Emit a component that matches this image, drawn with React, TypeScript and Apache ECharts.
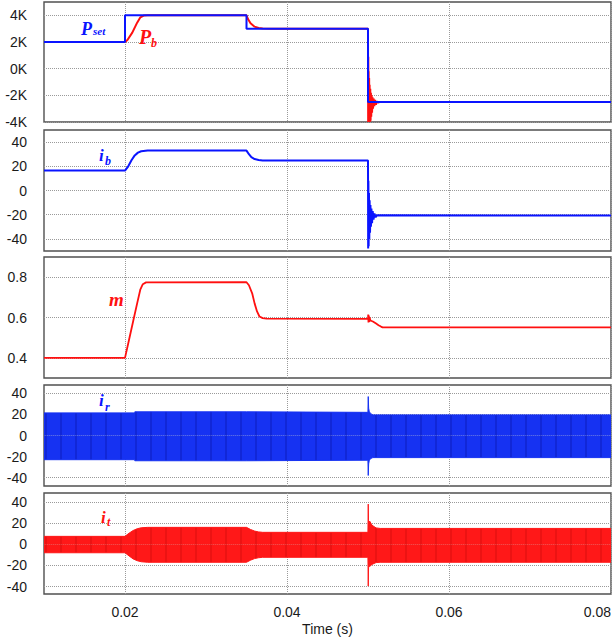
import React, { useEffect, useRef } from 'react';
import * as echarts from 'echarts';

// ---------- data ----------
const xTicks = [0.02, 0.04, 0.06, 0.08];
const pTicks = [-4000, -2000, 0, 2000, 4000];
const iTicks = [-40, -20, 0, 20, 40];
const mTicks = [0.4, 0.6, 0.8];

// Power reference P_set (W)
const pSet: [number, number][] = [
  [0.01, 2000], [0.02, 2000], [0.02, 4000], [0.035, 4000], [0.035, 3000],
  [0.05, 3000], [0.05, -2500], [0.08, -2500],
];
// Battery power P_b (W)
const pB: [number, number][] = [
  [0.01, 2000], [0.02, 2000], [0.0203, 2150], [0.0209, 2700], [0.0215, 3450],
  [0.0219, 3850], [0.0223, 3980], [0.0228, 4000], [0.035, 4000], [0.0352, 3700],
  [0.0355, 3400], [0.036, 3150], [0.0365, 3050], [0.037, 3010], [0.038, 3000],
  [0.05, 3000], [0.05002, -4000], [0.05004, 900], [0.05006, -4000], [0.05008, -200],
  [0.05011, -4000], [0.05014, -700], [0.05017, -4000], [0.0502, -1200], [0.05024, -4000],
  [0.05028, -1500], [0.05032, -3900], [0.05036, -1800], [0.0504, -3600], [0.05045, -2000],
  [0.0505, -3300], [0.05056, -2150], [0.05062, -3000], [0.0507, -2250], [0.05078, -2800],
  [0.05088, -2350], [0.05098, -2700], [0.0511, -2450], [0.05125, -2550], [0.0514, -2500],
  [0.08, -2500],
];
// Battery current i_b (A)
const iB: [number, number][] = [
  [0.01, 16.5], [0.02, 16.5], [0.0204, 20], [0.0208, 25], [0.0212, 29], [0.0216, 31.3],
  [0.022, 32.4], [0.0228, 33], [0.035, 33], [0.0353, 30], [0.0356, 27.5], [0.036, 26],
  [0.0365, 25.2], [0.037, 24.8], [0.05, 24.8], [0.05002, -48], [0.05005, 8], [0.05008, -46],
  [0.05012, -2], [0.05016, -40], [0.0502, -8], [0.05025, -35], [0.0503, -12], [0.05036, -30],
  [0.05042, -15], [0.0505, -27], [0.05058, -17], [0.05068, -24], [0.0508, -19], [0.05095, -22],
  [0.0511, -20.5], [0.08, -20.7],
];
// Modulation index m
const mIdx: [number, number][] = [
  [0.01, 0.4], [0.02, 0.4], [0.0205, 0.49], [0.021, 0.58], [0.0215, 0.67], [0.0219, 0.74],
  [0.0222, 0.765], [0.0226, 0.774], [0.035, 0.775], [0.0353, 0.76], [0.0357, 0.72],
  [0.036, 0.67], [0.0363, 0.63], [0.0366, 0.605], [0.037, 0.597], [0.0375, 0.594],
  [0.05, 0.593], [0.05003, 0.615], [0.05006, 0.575], [0.0501, 0.61], [0.05015, 0.578],
  [0.0502, 0.6], [0.0503, 0.585], [0.0506, 0.58], [0.051, 0.57], [0.0513, 0.562],
  [0.0516, 0.555], [0.0518, 0.551], [0.08, 0.551],
];
// Grid current i_r envelope (A)
const irUpper: [number, number][] = [
  [0.01, 21.5], [0.0212, 21.5], [0.02121, 22.5], [0.035, 22.5], [0.03501, 22],
  [0.04999, 22], [0.05003, 37], [0.05008, 26], [0.05015, 23], [0.0503, 21],
  [0.0506, 19.6], [0.08, 19.6],
];
const irLower: [number, number][] = [
  [0.01, -23], [0.0212, -23], [0.02121, -24], [0.035, -24], [0.03501, -23.5],
  [0.04999, -23.5], [0.05003, -38], [0.05008, -27], [0.05015, -24], [0.0503, -22],
  [0.0506, -21], [0.08, -21],
];
// Transformer current i_t envelope (A)
const itUpper: [number, number][] = [
  [0.01, 7.5], [0.02, 7.5], [0.0205, 10.5], [0.021, 13], [0.0215, 14.7], [0.022, 15.6],
  [0.0228, 16], [0.035, 16], [0.0355, 14], [0.036, 12.5], [0.0365, 11.7], [0.037, 11.3],
  [0.04999, 11.3], [0.05003, 38], [0.05007, 20], [0.0502, 22], [0.0505, 18], [0.051, 15.5],
  [0.0515, 15], [0.08, 15],
];
const itLower: [number, number][] = [
  [0.01, -8], [0.02, -8], [0.0205, -11], [0.021, -13.8], [0.0215, -15.5], [0.022, -16.5],
  [0.0228, -17], [0.035, -17], [0.0355, -15], [0.036, -13.5], [0.0365, -12.7], [0.037, -12.3],
  [0.04999, -12.3], [0.05003, -39.5], [0.05007, -22], [0.0502, -21], [0.0505, -19], [0.051, -17.3],
  [0.0515, -17], [0.08, -17],
];

const BLUE = '#0a14ff';
const RED = '#ff1010';
const BAND_BLUE = '#1632f2';
const BAND_RED = '#ff1818';
const SANS = 'Liberation Sans, Arial, sans-serif';
const SERIF = 'Liberation Serif, Times New Roman, serif';

export default function App() {
  const ref = useRef<HTMLDivElement>(null);
  useEffect(() => {
    if (!ref.current) return;
    const chart = echarts.init(ref.current, undefined, { renderer: 'svg' });

    const grids = [
      { left: 44, top: 2, width: 567, height: 120 },
      { left: 44, top: 130, width: 567, height: 121 },
      { left: 44, top: 257, width: 567, height: 121 },
      { left: 44, top: 385, width: 567, height: 101 },
      { left: 44, top: 493, width: 567, height: 101 },
    ].map((g) => ({
      ...g,
      show: true,
      borderColor: '#505050',
      borderWidth: 1.4,
      backgroundColor: '#fff',
      containLabel: false,
      outerBoundsMode: 'none',
    }));

    const splitLine = { show: true, lineStyle: { color: '#9a9a9a', type: [1, 1] as any, width: 1 } };

    const xAxes = grids.map((_, i) => ({
      type: 'value',
      gridIndex: i,
      min: 0.01,
      max: 0.08,
      axisLine: { show: false },
      axisTick: { show: false, customValues: xTicks },
      splitLine,
      axisLabel: {
        show: i === 4,
        customValues: xTicks,
        fontSize: 14,
        color: '#1a1a1a',
        fontFamily: SANS,
        margin: 11,
        alignMaxLabel: 'right',
        formatter: (v: number) => v.toFixed(2),
      },
      name: i === 4 ? 'Time (s)' : '',
      nameLocation: 'middle',
      nameGap: 28,
      nameTextStyle: { fontSize: 14, color: '#1a1a1a', fontFamily: SANS },
    }));

    const yDefs = [
      { min: -4000, max: 5000, ticks: pTicks, fmt: (v: number) => `${Math.round(v / 1000)}K` },
      { min: -50, max: 50, ticks: iTicks, fmt: (v: number) => `${v}` },
      { min: 0.3, max: 0.9, ticks: mTicks, fmt: (v: number) => v.toFixed(1) },
      { min: -48, max: 48, ticks: iTicks, fmt: (v: number) => `${v}` },
      { min: -47, max: 48.5, ticks: iTicks, fmt: (v: number) => `${v}` },
    ];
    const yAxes = yDefs.map((d, i) => ({
      type: 'value',
      gridIndex: i,
      min: d.min,
      max: d.max,
      axisLine: { show: false },
      axisTick: { show: false, customValues: d.ticks },
      splitLine,
      axisLabel: {
        customValues: d.ticks,
        fontSize: 14,
        color: '#1a1a1a',
        fontFamily: SANS,
        margin: 17,
        formatter: d.fmt,
      },
    }));

    const line = (data: [number, number][], idx: number, color: string, width: number, z = 2) => ({
      type: 'line',
      data,
      xAxisIndex: idx,
      yAxisIndex: idx,
      showSymbol: false,
      symbol: 'none',
      lineStyle: { color, width },
      itemStyle: { color, decal: 'none' },
      z,
      silent: true,
    });
    const band = (data: [number, number][], idx: number, color: string, stripe: string) => ({
      ...line(data, idx, color, 1),
      itemStyle: {
        color,
        decal: {
          symbol: 'rect',
          symbolSize: 1,
          color: stripe,
          dashArrayX: [[2, 13]],
          dashArrayY: [20, 0],
          rotation: 0,
        },
      },
      areaStyle: { color, opacity: 1 },
    });

    const txt = (text: string, x: number, y: number, size: number, color: string) => ({
      type: 'text',
      x,
      y,
      z: 100,
      style: {
        text,
        fill: color,
        font: `italic bold ${size}px ${SERIF}`,
        align: 'left',
        verticalAlign: 'middle',
      },
    });

    chart.setOption({
      animation: false,
      aria: { enabled: true, decal: { show: true } },
      grid: grids,
      xAxis: xAxes,
      yAxis: yAxes,
      series: [
        line(pB, 0, RED, 2, 2),
        line(pSet, 0, BLUE, 2, 3),
        line(iB, 1, BLUE, 2),
        line(mIdx, 2, RED, 1.8),
        band(irUpper, 3, BAND_BLUE, 'rgba(0,0,120,0.22)'),
        band(irLower, 3, BAND_BLUE, 'rgba(0,0,120,0.22)'),
        band(itUpper, 4, BAND_RED, 'rgba(160,0,0,0.2)'),
        band(itLower, 4, BAND_RED, 'rgba(160,0,0,0.2)'),
      ],
      graphic: [
        txt('P', 81, 28.5, 18, BLUE),
        txt('set', 93, 31, 11, BLUE),
        txt('P', 139, 36.5, 20, RED),
        txt('b', 151, 42.5, 12, RED),
        txt('i', 99, 155.5, 17, BLUE),
        txt('b', 105, 161, 12, BLUE),
        txt('m', 109, 299.5, 19, RED),
        txt('i', 99, 400.5, 17, BLUE),
        txt('r', 105, 406.5, 12, BLUE),
        txt('i', 101, 517, 17, RED),
        txt('t', 107, 522, 12, RED),
      ],
    });
    return () => chart.dispose();
  }, []);
  return <div ref={ref} style={{ position: 'fixed', left: 0, top: 0, width: 613, height: 642, background: '#fff' }} />;
}
